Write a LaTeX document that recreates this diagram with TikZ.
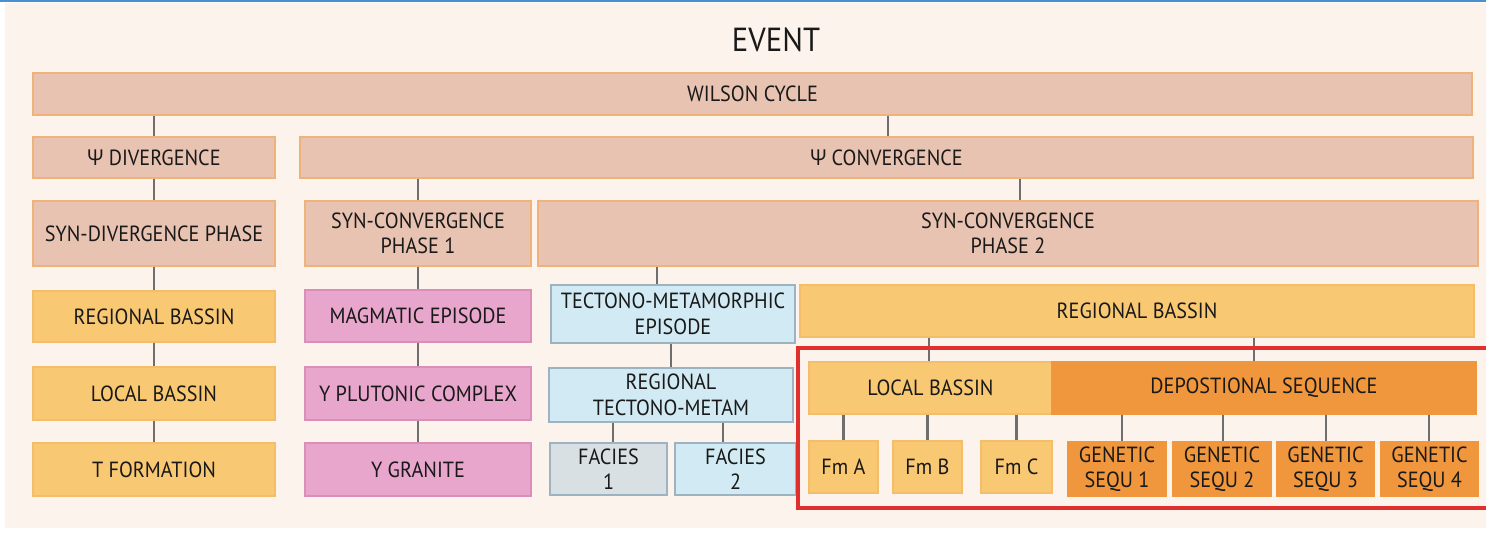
\documentclass[tikz,border=0pt]{standalone}
\usepackage{fontspec}
\setmainfont{PT Sans}[FakeStretch=0.92]
\newfontfamily\greekfont{Open Sans}[FakeStretch=0.92]
\newcommand\psisym{{\greekfont Ψ}}
\definecolor{paper}{HTML}{FCF3EC}
\definecolor{tan}{HTML}{E8C3B2}
\definecolor{tanline}{HTML}{F0B27A}
\definecolor{yel}{HTML}{F8C873}
\definecolor{yelline}{HTML}{F3BD6A}
\definecolor{pinkfill}{HTML}{E8A6CC}
\definecolor{pinkline}{HTML}{D98FB8}
\definecolor{bluefill}{HTML}{D2EAF3}
\definecolor{blueline}{HTML}{9DB3C2}
\definecolor{greyfill}{HTML}{D9E0E4}
\definecolor{deep}{HTML}{F0963C}
\definecolor{linkgrey}{HTML}{6E6E6E}
\definecolor{redframe}{HTML}{E0302E}
\definecolor{topblue}{HTML}{4A8FD0}
\tikzset{box/.style = {draw, rectangle, line width=0.6pt, inner sep=1pt, align=center,
                       font=\fontsize{12.5}{14.5}\selectfont, text=black!90},
         sz/.style 2 args = {minimum width=#1*0.02cm, minimum height=#2*0.02cm},
         phase/.style = {box, fill=tan, draw=tanline},
         basin/.style = {box, fill=yel, draw=yelline},
         magma/.style = {box, fill=pinkfill, draw=pinkline},
         meta/.style = {box, fill=bluefill, draw=blueline},
         seq/.style = {box, fill=deep, draw=deep},
         link/.style = {draw=linkgrey, line width=1.2pt}}

\begin{document}
\begin{tikzpicture}[x=0.02cm, y=-0.02cm]
        \useasboundingbox (0,0) rectangle (1486,533);
        \fill[white] (0,0) rectangle (1486,533);
        \fill[paper] (5,3) rectangle (1486,528);
        \fill[topblue] (0,0) rectangle (1486,2);

        \node[font=\fontsize{19}{21}\selectfont, text=black!90] (event) at (776,40) {EVENT};

        % top levels
        \node[phase, sz={1439}{42}] (wilson) at (752.5,94) {WILSON CYCLE};
        \node[phase, sz={242}{41}] (div) at (154,157.5) {\psisym{} DIVERGENCE};
        \node[phase, sz={1173}{41}] (conv) at (886.5,157.5) {\psisym{} CONVERGENCE};
        \node[phase, sz={242}{65}] (syndiv) at (154,233.5) {SYN-DIVERGENCE PHASE};
        \node[phase, sz={226}{65}] (ph1) at (418,233.5) {SYN-CONVERGENCE\\PHASE 1};
        \node[phase, sz={940}{65}] (ph2) at (1008,233.5) {SYN-CONVERGENCE\\PHASE 2};

        % divergence column
        \node[basin, sz={242}{51}] (regL) at (154,316.5) {REGIONAL BASSIN};
        \node[basin, sz={242}{53}] (locL) at (154,393.5) {LOCAL BASSIN};
        \node[basin, sz={242}{53}] (tform) at (154,469.5) {T FORMATION};

        % magmatic column
        \node[magma, sz={226}{52}] (mag) at (418,316) {MAGMATIC EPISODE};
        \node[magma, sz={226}{53}] (plut) at (418,393.5) {Y PLUTONIC COMPLEX};
        \node[magma, sz={226}{53}] (gran) at (418,469.5) {Y GRANITE};

        % metamorphic column
        \node[meta, sz={244}{58}] (tecto) at (673,314) {TECTONO-METAMORPHIC\\EPISODE};
        \node[meta, sz={244}{54}] (rtm) at (671,395) {REGIONAL\\TECTONO-METAM};
        \node[meta, fill=greyfill, sz={117}{52}] (fac1) at (608.5,469) {FACIES\\1};
        \node[meta, sz={121}{52}] (fac2) at (735.5,469) {FACIES\\2};

        % basin part
        \node[basin, sz={674}{52}] (regR) at (1137,311) {REGIONAL BASSIN};
        \node[basin, sz={243}{52}] (locR) at (930.5,388) {LOCAL BASSIN};
        \node[seq, sz={424}{52}] (dep) at (1264,388) {DEPOSTIONAL SEQUENCE};
        \node[basin, sz={69}{52}] (fmA) at (843.5,467) {Fm A};
        \node[basin, sz={69}{52}] (fmB) at (927.5,467) {Fm B};
        \node[basin, sz={71}{52}] (fmC) at (1016.5,467) {Fm C};
        \node[seq, sz={98}{54}] (gs1) at (1117,469) {GENETIC\\SEQU 1};
        \node[seq, sz={98}{54}] (gs2) at (1222,469) {GENETIC\\SEQU 2};
        \node[seq, sz={97}{54}] (gs3) at (1325.5,469) {GENETIC\\SEQU 3};
        \node[seq, sz={97}{54}] (gs4) at (1429.5,469) {GENETIC\\SEQU 4};

        % connectors
        \draw[link] (wilson.south -| div.north) -- (div.north);
        \draw[link] (wilson.south -| 888,0) -- (conv.north -| 888,0);
        \draw[link] (div.south) -- (syndiv.north);
        \draw[link] (conv.south -| ph1.north) -- (ph1.north);
        \draw[link] (conv.south -| 1020,0) -- (ph2.north -| 1020,0);
        \draw[link] (syndiv.south) -- (regL.north);
        \draw[link] (regL.south) -- (locL.north);
        \draw[link] (locL.south) -- (tform.north);
        \draw[link] (ph1.south) -- (mag.north);
        \draw[link] (mag.south) -- (plut.north);
        \draw[link] (plut.south) -- (gran.north);
        \draw[link] (ph2.south -| 657,0) -- (tecto.north -| 657,0);
        \draw[link] (tecto.south -| rtm.north) -- (rtm.north);
        \draw[link] (rtm.south -| 613,0) -- (fac1.north -| 613,0);
        \draw[link] (rtm.south -| 723,0) -- (fac2.north -| 723,0);
        \draw[link] (regR.south -| 929,0) -- (locR.north -| 929,0);
        \draw[link] (regR.south -| 1254,0) -- (dep.north -| 1254,0);
        \draw[link] (locR.south -| fmA.north) -- (fmA.north);
        \draw[link] (locR.south -| fmB.north) -- (fmB.north);
        \draw[link] (locR.south -| fmC.north) -- (fmC.north);
        \draw[link] (dep.south -| 1122,0) -- (gs1.north -| 1122,0);
        \draw[link] (dep.south -| 1223,0) -- (gs2.north -| 1223,0);
        \draw[link] (dep.south -| 1326,0) -- (gs3.north -| 1326,0);
        \draw[link] (dep.south -| 1429,0) -- (gs4.north -| 1429,0);

        % highlight frame
        \draw[redframe, line width=1.8pt] (798,348) rectangle (1495,508);
    \end{tikzpicture}
\end{document}
